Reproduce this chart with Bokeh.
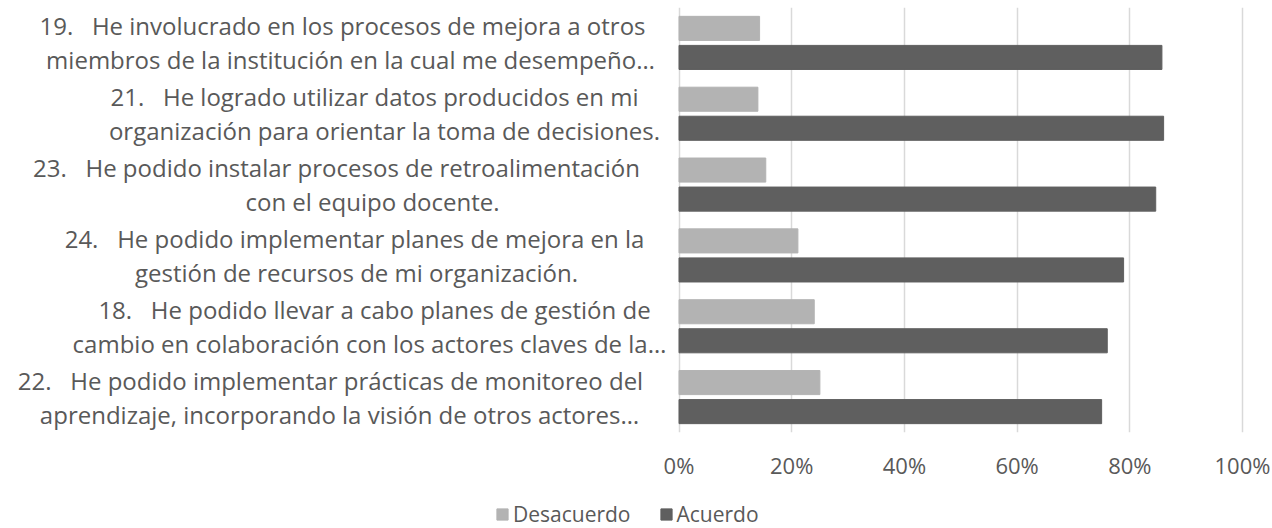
from bokeh.plotting import figure
from bokeh.layouts import column
from bokeh.models import (FactorRange, Range1d, FixedTicker, NumeralTickFormatter,
                          Legend, LegendItem, ColumnDataSource)
from bokeh.transform import dodge
from bokeh.core.properties import value
from bokeh.embed import file_html
from bokeh.resources import INLINE

# ---------------- data ----------------
categories = ["19", "21", "23", "24", "18", "22"]
GAP = "\u00a0\u00a0\u00a0"
label_line1 = [
    "19." + GAP + "He involucrado en los procesos de mejora a otros",
    "21." + GAP + "He logrado utilizar datos producidos en mi",
    "23." + GAP + "He podido instalar procesos de retroalimentación",
    "24." + GAP + "He podido implementar planes de mejora en la",
    "18." + GAP + "He podido llevar a cabo planes de gestión de",
    "22." + GAP + "He podido implementar prácticas de monitoreo del",
]
label_line2 = [
    "miembros de la institución en la cual me desempeño…",
    "organización para orientar la toma de decisiones.",
    "con el equipo docente.",
    "gestión de recursos de mi organización.",
    "cambio en colaboración con los actores claves de la…",
    "aprendizaje, incorporando la visión de otros actores…",
]
desacuerdo = [0.143, 0.140, 0.154, 0.211, 0.240, 0.250]
acuerdo = [0.857, 0.860, 0.846, 0.789, 0.760, 0.750]
series_names = ["Desacuerdo", "Acuerdo"]
tick_values = [0, 0.2, 0.4, 0.6, 0.8, 1.0]

# ---------------- style ----------------
FONT = "Open Sans"
TXT = "#595959"
C_DES = "#b3b3b3"
C_ACU = "#5f5f5f"
ORIGIN_PX = 678.5
UNIT_PX = 563.5
W = 1272
H_MAIN, H_LEG = 492, 36
line1_center_px = [342, 374, 336, 354, 374, 330]
line2_center_px = [350, 384, 372, 356, 369, 339]

p = figure(width=W, height=H_MAIN, output_backend="svg", toolbar_location=None,
           y_range=FactorRange(factors=list(reversed(categories)), range_padding=0),
           x_range=Range1d(-ORIGIN_PX / UNIT_PX, (W - ORIGIN_PX) / UNIT_PX),
           min_border_left=0, min_border_right=0, min_border_top=7,
           min_border_bottom=60)
p.outline_line_color = None
p.yaxis.visible = False
p.ygrid.grid_line_color = None

p.xgrid.ticker = FixedTicker(ticks=tick_values)
p.xgrid.grid_line_color = "#d9d9d9"
p.xgrid.grid_line_width = 1.5

xa = p.xaxis[0]
xa.ticker = FixedTicker(ticks=tick_values)
xa.formatter = NumeralTickFormatter(format="0%")
xa.axis_line_color = None
xa.major_tick_line_color = None
xa.minor_tick_line_color = None
xa.major_label_text_font = FONT
xa.major_label_text_font_size = "22px"
xa.major_label_text_color = TXT
xa.major_label_standoff = 11

src = ColumnDataSource(dict(cat=categories, des=desacuerdo, acu=acuerdo,
                            l1=label_line1, l2=label_line2,
                            x1=[c - ORIGIN_PX for c in line1_center_px],
                            x2=[c - ORIGIN_PX for c in line2_center_px],
                            zero=[0] * len(categories)))

p.hbar(y=dodge("cat", 0.205, range=p.y_range), right="des", left=0,
       height=0.34, source=src, fill_color=C_DES, line_color=C_DES)
p.hbar(y=dodge("cat", -0.205, range=p.y_range), right="acu", left=0,
       height=0.34, source=src, fill_color=C_ACU, line_color=C_ACU)

for col, xo, yo in (("l1", "x1", -17), ("l2", "x2", 17)):
    p.text(x="zero", y="cat", text=col, source=src, x_offset=xo, y_offset=yo,
           text_align="center", text_baseline="middle",
           text_font=value(FONT), text_font_size="24px", text_color=TXT)

# ---------------- legend strip ----------------
lp = figure(width=W, height=H_LEG, output_backend="svg", toolbar_location=None,
            x_range=Range1d(0, 1), y_range=Range1d(0, 1),
            min_border=0, min_border_left=0, min_border_right=0,
            min_border_top=0, min_border_bottom=0)
lp.axis.visible = False
lp.grid.grid_line_color = None
lp.outline_line_color = None
# placeholder bars outside the visible range: only their legend swatches show
hidden = ColumnDataSource(dict(y=[-10.0], right=[-10.0]))
l_des = lp.hbar(y="y", right="right", left=-11, height=0.1, source=hidden,
                fill_color=C_DES, line_color=C_DES)
l_acu = lp.hbar(y="y", right="right", left=-11, height=0.1, source=hidden,
                fill_color=C_ACU, line_color=C_ACU)
legend = Legend(items=[LegendItem(label=series_names[0], renderers=[l_des]),
                       LegendItem(label=series_names[1], renderers=[l_acu])],
                orientation="horizontal", location=(495, 0),
                padding=0, margin=0, spacing=28, label_standoff=4,
                glyph_width=14, glyph_height=14,
                label_text_font=FONT, label_text_font_size="21px",
                label_text_color=TXT, border_line_color=None,
                background_fill_alpha=0)
lp.add_layout(legend)

open("out.html", "w").write(file_html(column(p, lp), INLINE))
